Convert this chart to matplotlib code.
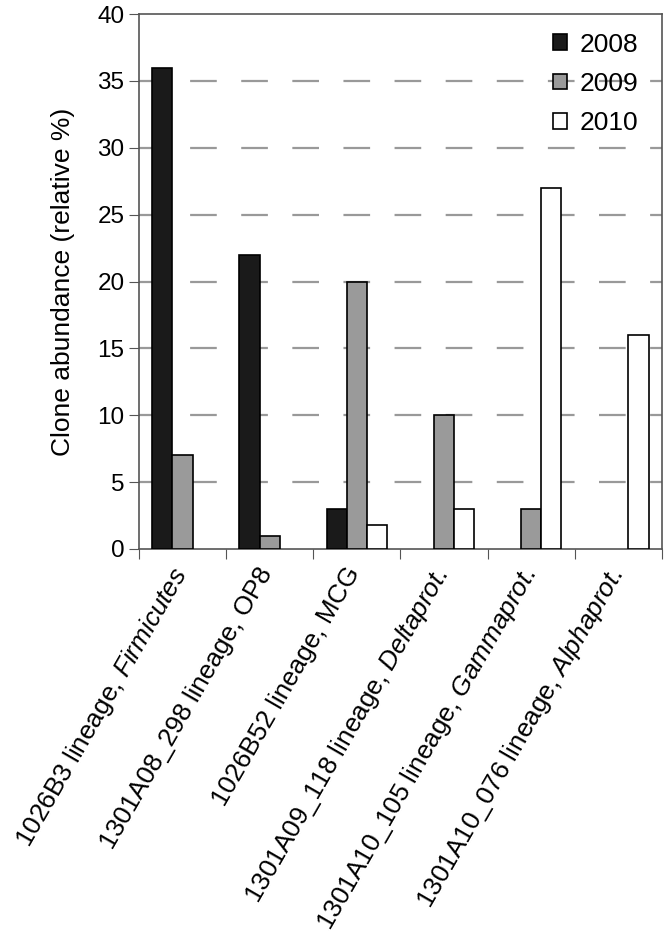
import numpy as np
import matplotlib
matplotlib.use('Agg')
import matplotlib.pyplot as plt

plt.rcParams['font.family'] = ['Liberation Sans', 'DejaVu Sans']
plt.rcParams['mathtext.fontset'] = 'custom'
plt.rcParams['mathtext.rm'] = 'Liberation Sans'
plt.rcParams['mathtext.it'] = 'Liberation Sans:italic'

categories = ['1026B3 lineage, $\\mathit{Firmicutes}$',
              '1301A08_298 lineage, OP8',
              '1026B52 lineage, MCG',
              '1301A09_118 lineage, $\\mathit{Deltaprot.}$',
              '1301A10_105 lineage, $\\mathit{Gammaprot.}$',
              '1301A10_076 lineage, $\\mathit{Alphaprot.}$']
years = ['2008', '2009', '2010']
v2008 = [36, 22, 3, 0, 0, 0]
v2009 = [7, 1, 20, 10, 3, 0]
v2010 = [0, 0, 1.8, 3, 27, 16]

fig = plt.figure(figsize=(6.66, 9.4), dpi=100)
ax = fig.add_axes([0.2087, 0.416, 0.785, 0.569])

x = np.arange(len(categories))
w = 0.232
colors = ['#1a1a1a', '#9a9a9a', 'white']
for k, (vals, c) in enumerate(zip([v2008, v2009, v2010], colors)):
    xs = [xi + 0.5 + (k - 1) * w for xi, v in zip(x, vals) if v > 0]
    hs = [v for v in vals if v > 0]
    ax.bar(xs, hs, width=w, color=c, edgecolor='black', linewidth=1.2,
           label=years[k], zorder=3)

ax.set_xlim(0, len(categories))
ax.set_ylim(0, 40)
ax.set_yticks(range(0, 45, 5))
ax.set_xticks(range(len(categories) + 1))
ax.set_xticklabels([])
for i, lab in enumerate(categories):
    ax.text(i + 0.35, -1.05, lab, rotation=60, ha='right', va='top',
            rotation_mode='anchor', fontsize=18.8)

for y in range(5, 40, 5):
    ax.axhline(y, color='#999999', linestyle=(0, (12, 11)), linewidth=1.6, zorder=1)

for s in ax.spines.values():
    s.set_color('#555555')
    s.set_linewidth(1.2)
ax.tick_params(axis='y', direction='out', length=7, labelsize=17.5, color='#555555')
ax.tick_params(axis='x', direction='out', length=7, color='#555555')
ax.set_ylabel('Clone abundance (relative %)', fontsize=19, labelpad=16)

leg = ax.legend(loc='upper right', frameon=False, fontsize=19, handlelength=0.55,
                handleheight=0.55, handletextpad=0.45, labelspacing=0.58,
                bbox_to_anchor=(1.0, 1.01))

fig.savefig('out.png', dpi=100)
